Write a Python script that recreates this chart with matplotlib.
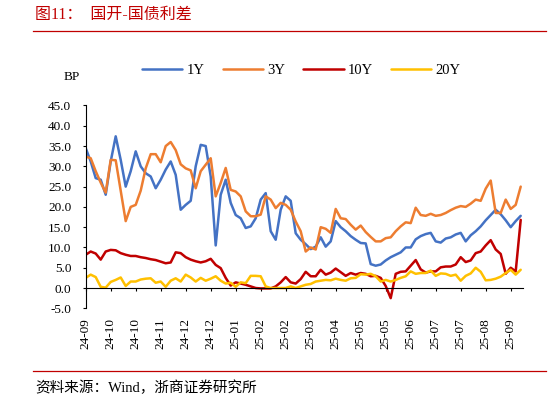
import matplotlib
matplotlib.use('Agg')
import matplotlib.pyplot as plt
import numpy as np
from matplotlib.lines import Line2D
from matplotlib.ticker import FormatStrFormatter

# ---------------- data ----------------
tick_labels = ['24-09', '24-10', '24-10', '24-11', '24-12', '24-12', '25-01', '25-02',
               '25-02', '25-03', '25-04', '25-05', '25-05', '25-06', '25-07', '25-07',
               '25-08', '25-09']

series_names = ['1Y', '3Y', '10Y', '20Y']

s1y = [34.5, 31.2, 27.1, 26.7, 23.0, 31.2, 37.4, 31.6, 25.0, 28.8,
       33.7, 30.0, 28.3, 27.5, 24.6, 26.7, 29.2, 31.2, 27.9, 19.3,
       20.5, 21.5, 30.0, 35.3, 35.0, 27.5, 10.5, 23.0, 26.7, 21.0,
       18.0, 17.2, 14.8, 15.2, 17.2, 21.8, 23.4, 14.0, 11.9, 19.3,
       22.6, 21.5, 13.5, 11.9, 10.8, 9.6, 10.2, 12.5, 10.2, 11.5,
       16.5, 15.0, 14.0, 12.8, 11.9, 11.1, 11.0, 5.9, 5.5, 5.8,
       6.8, 7.6, 8.2, 8.8, 10.0, 10.0, 12.0, 12.8, 13.3, 13.6,
       11.5, 11.2, 12.2, 12.5, 13.2, 13.6, 11.5, 13.0, 14.0, 15.2,
       16.7, 18.0, 19.3, 18.2, 16.7, 15.0, 16.5, 17.8]

s3y = [32.4, 32.0, 28.8, 26.0, 23.5, 31.6, 31.5, 24.0, 16.5, 20.0,
       20.5, 24.0, 29.5, 33.0, 33.0, 31.0, 35.0, 36.0, 34.0, 30.5,
       29.5, 29.0, 24.6, 28.8, 30.4, 32.0, 22.6, 25.9, 29.6, 24.2,
       23.8, 22.6, 18.9, 17.7, 17.7, 18.1, 22.6, 21.8, 19.7, 21.0,
       20.5, 19.3, 16.4, 14.0, 9.0, 10.0, 9.5, 15.0, 14.6, 13.6,
       19.5, 17.2, 17.0, 15.6, 14.4, 15.4, 13.8, 12.6, 11.5, 11.5,
       12.3, 12.5, 14.0, 15.2, 16.2, 16.0, 19.8, 18.0, 17.8, 18.3,
       17.8, 18.0, 18.5, 19.2, 19.8, 20.2, 20.0, 20.8, 21.8, 21.5,
       24.5, 26.5, 18.5, 18.5, 21.8, 19.5, 20.5, 25.0]

s10y = [8.2, 9.0, 8.5, 7.0, 9.0, 9.4, 9.3, 8.6, 8.2, 7.9,
        7.9, 7.6, 7.4, 7.1, 6.9, 6.5, 6.1, 6.3, 8.8, 8.6,
        7.6, 7.0, 6.6, 6.3, 6.6, 7.2, 5.7, 4.9, 2.5, 0.6,
        1.4, 1.1, 0.8, 0.4, 0.0, -0.1, -0.1, -0.1, 0.4, 1.4,
        2.7, 1.4, 1.1, 2.2, 4.0, 2.9, 2.9, 4.5, 3.3, 3.8,
        4.8, 3.9, 3.0, 3.7, 3.3, 3.7, 3.5, 2.9, 3.0, 2.5,
        0.5, -2.5, 3.5, 4.0, 4.1, 5.5, 6.9, 4.6, 3.8, 4.1,
        4.1, 5.1, 5.3, 5.3, 5.8, 7.6, 6.4, 6.8, 8.6, 9.0,
        10.5, 11.8, 9.5, 8.4, 3.5, 5.0, 4.1, 16.8]

s20y = [2.5, 3.3, 2.7, 0.3, 0.1, 1.5, 2.0, 2.6, 0.5, 1.6,
        1.6, 2.1, 2.3, 2.4, 1.3, 1.6, 0.3, 1.8, 2.4, 1.6,
        3.3, 2.6, 1.6, 2.5, 1.8, 2.3, 2.9, 1.8, 1.1, 1.3,
        0.3, 1.4, 1.2, 3.0, 3.0, 2.9, 0.4, 0.0, 0.0, 0.0,
        0.0, 0.4, 0.0, 0.4, 0.8, 1.0, 1.6, 1.8, 2.0, 1.9,
        2.3, 2.0, 1.8, 2.4, 2.5, 3.4, 3.3, 3.5, 2.9, 1.6,
        2.0, 1.6, 2.0, 2.5, 2.9, 4.1, 3.5, 3.7, 3.7, 4.3,
        3.0, 3.6, 3.5, 3.0, 3.3, 1.8, 3.0, 3.6, 5.0, 4.0,
        1.9, 2.0, 2.3, 2.8, 3.7, 4.5, 3.3, 4.5]

title_text = '图11：  国开-国债利差'
source_text = '资料来源：Wind，浙商证券研究所'
unit_text = 'BP'

# ---------------- style ----------------
plt.rcParams['font.family'] = ['Liberation Serif', 'Noto Sans CJK SC']
plt.rcParams['axes.unicode_minus'] = False

W, H = 548, 401
fig = plt.figure(figsize=(W / 100, H / 100), dpi=100)
fig.patch.set_facecolor('white')


def fx(px):
    return px / W


def fy(py):
    return 1 - py / H


STEP = 5.0          # px per sample
X0, X1 = 85.7, 523.0
Y_TOP, Y_BOT = 105.5, 308.3
ax = fig.add_axes([fx(X0), fy(Y_BOT), fx(X1) - fx(X0), fy(Y_TOP) - fy(Y_BOT)])

colors = ['#4472C4', '#ED7D31', '#C00000', '#FFC000']
data = [s1y, s3y, s10y, s20y]
x = np.arange(len(s1y))
handles = []
for vals, c, name in zip(data, colors, series_names):
    ln, = ax.plot(x, vals, color=c, lw=1.8, label=name,
                  solid_joinstyle='round', solid_capstyle='round')
    handles.append(ln)

ax.set_xlim(0, (X1 - X0) / STEP)
ax.set_ylim(-5, 45)
ax.set_yticks(np.arange(-5, 46, 5))
ax.yaxis.set_major_formatter(FormatStrFormatter('%.1f'))
ax.set_xticks(np.arange(len(tick_labels)) * 5)
ax.set_xticklabels(tick_labels)

for s in ['top', 'right']:
    ax.spines[s].set_visible(False)
ax.spines['bottom'].set_position(('data', 0))
for s in ['left', 'bottom']:
    ax.spines[s].set_linewidth(0.8)
    ax.spines[s].set_color('black')

ax.tick_params(axis='x', direction='out', length=2.4, width=0.8, pad=19.5,
               labelsize=9.5, colors='black', labelrotation=90)
ax.tick_params(axis='y', direction='out', length=2.4, width=0.8, pad=8,
               labelsize=9.5, colors='black')
for lab in ax.get_xticklabels():
    lab.set_rotation(90)
    lab.set_va('top')
    lab.set_ha('center')

# legend
fig.legend(handles=handles, labels=series_names, loc='center left',
           bbox_to_anchor=(fx(142), fy(70)), ncol=4, frameon=False,
           fontsize=10.5, handlelength=2.75, handletextpad=0.3,
           columnspacing=1.25, borderpad=0, borderaxespad=0)

# unit label
fig.text(fx(72), fy(77), unit_text, ha='center', va='center', fontsize=9.5)

# title + rule
fig.text(fx(35), fy(15), title_text, ha='left', va='center', fontsize=11.5,
         color='#C00000')
fig.add_artist(Line2D([fx(33), fx(546)], [fy(31), fy(31)], color='#C00000', lw=0.9))

# footer rule + source
fig.add_artist(Line2D([fx(33), fx(546)], [fy(371), fy(371)], color='#C00000', lw=0.9))
fig.text(fx(35), fy(388), source_text, ha='left', va='center', fontsize=10.5,
         color='black')

fig.savefig('out.png', dpi=100, facecolor='white')
